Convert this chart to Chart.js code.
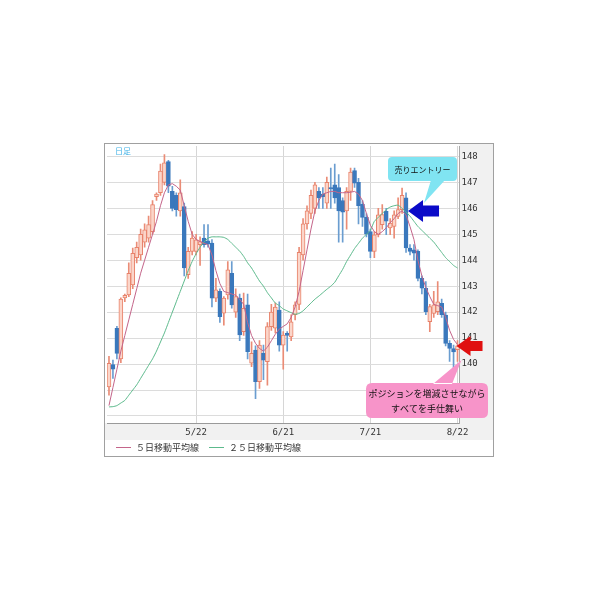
<!DOCTYPE html>
<html>
<head>
<meta charset="utf-8">
<script src="https://cdn.jsdelivr.net/npm/chart.js@4.4.0/dist/chart.umd.min.js"></script>
<style>
  html, body { margin: 0; padding: 0; background: #fff; }
</style>
</head>
<body>
<canvas id="chart" width="600" height="600"></canvas>
<script>
// trading days (weekdays) 4/20 .. 8/22
const labels = [];
for (let d = new Date(2023, 3, 20); d <= new Date(2023, 7, 22); d.setDate(d.getDate() + 1)) {
    if (d.getDay() !== 0 && d.getDay() !== 6) labels.push((d.getMonth() + 1) + '/' + d.getDate());
}
const tickDates = ['5/22', '6/21', '7/21', '8/22'];

const open = [139.12, 139.98, 141.38, 140.2, 142.55, 142.66, 143.05, 144.1, 144.2, 144.7,
    144.85, 145.1, 146.45, 146.6, 147.0, 147.8, 146.65, 146.5, 145.9, 146.07,
    143.44, 144.34, 144.34, 144.6, 144.85, 144.75, 144.66, 142.54, 142.8, 141.96,
    142.66, 143.5, 142.0, 142.54, 141.25, 142.28, 140.03, 140.54, 139.32, 140.41,
    140.09, 141.44, 141.38, 142.08, 140.73, 141.18, 141.05, 141.9, 142.3, 144.2,
    145.4, 145.8, 146.0, 146.65, 146.55, 146.2, 146.8, 146.9, 146.8, 146.3,
    145.9, 146.65, 147.45, 147.0, 146.15, 145.65, 145.1, 144.34, 144.98, 145.37,
    145.88, 145.24, 145.3, 145.69, 145.95, 146.4, 144.47, 144.4, 144.34, 143.3,
    142.92, 141.63, 141.95, 142.02, 142.34, 141.89, 140.8, 140.6, 140.55];
const high = [140.3, 140.15, 141.45, 142.55, 142.7, 143.9, 144.47, 144.7, 145.2, 145.4,
    145.7, 146.3, 146.6, 147.7, 148.07, 147.85, 146.85, 146.6, 147.1, 146.2,
    144.5, 145.1, 145.0, 144.9, 145.37, 145.37, 144.8, 143.3, 142.9, 142.6,
    143.95, 143.95, 142.9, 142.7, 142.73, 142.7, 140.86, 140.7, 140.9, 140.73,
    141.6, 142.3, 142.35, 142.4, 141.25, 141.25, 141.9, 142.4, 144.5, 145.6,
    146.1, 146.7, 147.0, 146.8, 146.8, 147.2, 147.55, 147.7, 147.3, 146.4,
    146.8, 147.55, 147.55, 147.15, 146.3, 145.8, 145.2, 145.1, 146.0, 146.14,
    146.0, 145.6, 145.9, 146.4, 146.78, 146.6, 144.6, 144.6, 144.4, 143.4,
    143.18, 142.3, 142.8, 143.18, 142.5, 142.0, 140.9, 140.73, 140.9];
const low = [138.8, 139.45, 140.2, 140.05, 142.4, 142.6, 142.9, 143.9, 144.0, 144.5,
    144.7, 145.0, 146.3, 146.5, 146.9, 146.6, 145.9, 145.7, 145.7, 143.4,
    143.3, 144.2, 144.2, 143.8, 144.5, 144.5, 142.2, 142.4, 141.6, 141.5,
    142.5, 142.15, 141.8, 140.9, 141.1, 140.2, 139.9, 138.67, 139.06, 139.4,
    139.19, 141.3, 141.2, 140.5, 139.8, 140.5, 140.9, 141.7, 142.1, 144.0,
    145.2, 145.6, 145.8, 146.0, 146.0, 146.0, 146.0, 146.2, 144.7, 144.7,
    145.2, 146.3, 146.8, 145.4, 145.3, 144.9, 144.1, 144.1, 144.9, 145.2,
    144.98, 144.98, 144.85, 145.6, 145.8, 144.3, 144.2, 144.0, 143.2, 142.7,
    141.9, 141.25, 141.8, 141.9, 141.8, 140.7, 140.1, 139.83, 140.1];
const close = [140.03, 139.8, 140.41, 142.5, 142.65, 143.5, 144.27, 144.5, 145.0, 145.17,
    145.37, 146.14, 146.55, 147.43, 147.75, 146.85, 146.0, 145.95, 146.6, 143.7,
    144.34, 144.85, 144.79, 144.72, 144.6, 144.62, 142.54, 142.86, 141.83, 142.54,
    143.63, 142.28, 142.6, 141.12, 142.15, 140.48, 140.41, 139.32, 140.73, 140.15,
    141.44, 142.0, 142.2, 140.73, 141.12, 141.1, 141.63, 142.28, 144.3, 145.4,
    145.9, 146.5, 146.9, 146.4, 146.45, 147.0, 146.75, 146.4, 145.9, 145.85,
    146.65, 147.4, 146.97, 146.1, 145.65, 145.0, 144.34, 144.98, 145.75, 145.76,
    145.5, 145.43, 145.75, 145.95, 146.5, 144.47, 144.34, 144.27, 143.3, 142.92,
    142.02, 142.21, 142.28, 142.4, 141.9, 140.8, 140.6, 140.47, 140.7];

const ma5 = [138.4, 139.1, 139.8, 140.5, 141.1, 141.7, 142.3, 142.9, 143.5, 144.0,
    144.5, 145.0, 145.5, 146.1, 146.6, 146.9, 146.95, 146.85, 146.7, 146.1,
    145.5, 145.0, 144.8, 144.72, 144.65, 144.6, 144.2, 143.6, 143.1, 142.8,
    142.75, 142.7, 142.65, 142.5, 142.3, 141.6, 141.1, 140.8, 140.6, 140.5,
    140.65, 140.9, 141.15, 141.35, 141.45, 141.55, 141.8, 142.2, 142.8, 143.6,
    144.4, 145.2, 145.9, 146.3, 146.55, 146.6, 146.65, 146.65, 146.6, 146.6,
    146.6, 146.62, 146.65, 146.55, 146.3, 145.8, 145.35, 145.1, 145.0, 145.1,
    145.25, 145.45, 145.6, 145.8, 145.9, 145.75, 145.3, 144.8, 144.0, 143.4,
    142.95, 142.6, 142.3, 142.25, 142.2, 141.8, 141.3, 140.95, 140.75];
const ma25 = [138.35, 138.36, 138.4, 138.5, 138.6, 138.8, 139.0, 139.2, 139.45, 139.7,
    139.95, 140.2, 140.5, 140.85, 141.2, 141.6, 142.0, 142.4, 142.8, 143.2,
    143.6, 143.95, 144.25, 144.5, 144.7, 144.85, 144.9, 144.9, 144.9, 144.88,
    144.8, 144.65, 144.5, 144.35, 144.15, 143.9, 143.7, 143.45, 143.2, 143.0,
    142.75, 142.55, 142.35, 142.25, 142.12, 142.05, 141.98, 141.92, 141.95, 142.05,
    142.2, 142.35, 142.5, 142.62, 142.75, 142.88, 143.0, 143.15, 143.4, 143.65,
    143.95, 144.2, 144.45, 144.65, 144.85, 145.0, 145.15, 145.5, 145.65, 145.8,
    145.95, 146.05, 146.1, 146.12, 146.0, 145.85, 145.7, 145.5, 145.3, 145.15,
    145.0, 144.85, 144.7, 144.5, 144.3, 144.1, 143.95, 143.8, 143.7];

const up = close.map((c, i) => c >= open[i]);
const jpFont = '"Noto Sans CJK JP", sans-serif';

function bubble(ctx, x, y, w, h, r, tail, color) {
    ctx.beginPath();
    ctx.moveTo(x + r, y);
    ctx.lineTo(x + w - r, y);
    ctx.quadraticCurveTo(x + w, y, x + w, y + r);
    ctx.lineTo(x + w, y + h - r);
    ctx.quadraticCurveTo(x + w, y + h, x + w - r, y + h);
    ctx.lineTo(x + r, y + h);
    ctx.quadraticCurveTo(x, y + h, x, y + h - r);
    ctx.lineTo(x, y + r);
    ctx.quadraticCurveTo(x, y, x + r, y);
    ctx.closePath();
    ctx.moveTo(tail[0][0], tail[0][1]);
    ctx.lineTo(tail[1][0], tail[1][1]);
    ctx.lineTo(tail[2][0], tail[2][1]);
    ctx.closePath();
    ctx.fillStyle = color;
    ctx.fill();
}

function arrowLeft(ctx, tx, ty, headLen, headHalf, totalLen, shaftHalf, color) {
    ctx.beginPath();
    ctx.moveTo(tx, ty);
    ctx.lineTo(tx + headLen, ty - headHalf);
    ctx.lineTo(tx + headLen, ty - shaftHalf);
    ctx.lineTo(tx + totalLen, ty - shaftHalf);
    ctx.lineTo(tx + totalLen, ty + shaftHalf);
    ctx.lineTo(tx + headLen, ty + shaftHalf);
    ctx.lineTo(tx + headLen, ty + headHalf);
    ctx.closePath();
    ctx.fillStyle = color;
    ctx.fill();
}

const framePlugin = {
    id: 'frame',
    beforeDraw(chart) {
        const { ctx, chartArea: a } = chart;
        ctx.save();
        ctx.fillStyle = '#fff';
        ctx.fillRect(0, 0, chart.width, chart.height);
        ctx.fillStyle = '#f1f1f1';
        ctx.fillRect(a.right, 143, 493 - a.right, 440 - 143);
        ctx.fillRect(104, a.bottom, 493 - 104, 440 - a.bottom);
        ctx.restore();
    },
    afterDraw(chart) {
        const { ctx, chartArea: a, scales } = chart;
        ctx.save();

        // outer frame
        ctx.strokeStyle = '#a0a0a0';
        ctx.lineWidth = 1;
        ctx.strokeRect(104.5, 143.5, 389, 313);

        // 日足
        ctx.font = '8px ' + jpFont;
        ctx.fillStyle = '#45b3e6';
        ctx.textBaseline = 'middle';
        ctx.textAlign = 'left';
        ctx.fillText('日足', a.left + 8, a.top + 5);

        // legend
        let lx = a.left + 9;
        const ly = 447;
        ctx.font = '9px ' + jpFont;
        chart.data.datasets.filter(ds => ds.type === 'line').forEach(ds => {
            ctx.strokeStyle = ds.borderColor;
            ctx.lineWidth = 1;
            ctx.beginPath();
            ctx.moveTo(lx, ly + 0.5);
            ctx.lineTo(lx + 15, ly + 0.5);
            ctx.stroke();
            ctx.fillStyle = '#333';
            ctx.fillText(ds.label, lx + 20, ly + 1);
            lx += 20 + ctx.measureText(ds.label).width + 10;
        });

        // sell entry marker
        const bx = scales.x.getPixelForValue(75) + 2;
        const by = scales.y.getPixelForValue(145.9);
        bubble(ctx, 388, 157, 69, 24, 4, [[431, 180], [445, 180], [bx + 16, by - 8]], '#80e4f2');
        ctx.fillStyle = '#111';
        ctx.font = '8px ' + jpFont;
        ctx.textAlign = 'center';
        ctx.fillText('売りエントリー', 422.5, 169.5);
        arrowLeft(ctx, bx, by, 15, 11, 31, 5.5, '#0a0ac8');

        // exit marker
        const rx = scales.x.getPixelForValue(88) - 1;
        const ry = scales.y.getPixelForValue(140.7);
        bubble(ctx, 366, 383, 122, 35, 6, [[433, 384], [452, 384], [rx + 5, ry + 14]], '#f794c9');
        ctx.fillStyle = '#111';
        ctx.font = '9px ' + jpFont;
        ctx.fillText('ポジションを増減させながら', 427, 393.5);
        ctx.fillText('すべてを手仕舞い', 427, 408.5);
        arrowLeft(ctx, rx, ry, 14, 10, 26, 5, '#e01010');

        ctx.restore();
    }
};

new Chart(document.getElementById('chart'), {
    type: 'bar',
    data: {
        labels: labels,
        datasets: [
            {
                type: 'line', label: '５日移動平均線', data: ma5,
                borderColor: '#c4658a', backgroundColor: '#c4658a',
                borderWidth: 1, pointRadius: 0, tension: 0, order: 0
            },
            {
                type: 'line', label: '２５日移動平均線', data: ma25,
                borderColor: '#5cba8c', backgroundColor: '#5cba8c',
                borderWidth: 1, pointRadius: 0, tension: 0.2, order: 0
            },
            {
                label: 'wick', data: low.map((l, i) => [l, high[i]]),
                backgroundColor: up.map(u => u ? '#ea8c76' : '#6a9dd0'),
                barThickness: 1, grouped: false, order: 2
            },
            {
                label: 'body', data: open.map((o, i) => [o, close[i]]),
                backgroundColor: up.map(u => u ? '#fbd6ca' : '#3a78bc'),
                borderColor: up.map(u => u ? '#e8826a' : '#3a78bc'),
                borderWidth: 1, borderSkipped: false,
                barThickness: 4, grouped: false, order: 1
            }
        ]
    },
    options: {
        responsive: false,
        animation: false,
        layout: { padding: { left: 107, top: 146, right: 106.5, bottom: 160 } },
        plugins: {
            legend: { display: false },
            tooltip: { enabled: false }
        },
        scales: {
            x: {
                offset: true,
                afterFit: scale => { scale.height = 17; },
                grid: {
                    offset: false,
                    drawTicks: false,
                    color: c => (c.tick && tickDates.includes(labels[c.tick.value])) ? '#d6d6d6' : 'rgba(0,0,0,0)'
                },
                border: { color: '#9a9a9a' },
                ticks: {
                    autoSkip: false,
                    maxRotation: 0,
                    padding: 4,
                    color: '#333',
                    font: { family: 'DejaVu Sans Mono', size: 9 },
                    callback: (v) => tickDates.includes(labels[v]) ? labels[v] : ''
                }
            },
            y: {
                position: 'right',
                min: 137.73,
                max: 148.4,
                afterFit: scale => { scale.width = 34; },
                afterBuildTicks: axis => { axis.ticks = axis.ticks.filter(t => Number.isInteger(t.value)); },
                grid: { drawTicks: false, color: '#dcdcdc' },
                border: { color: '#a8a8a8' },
                ticks: {
                    stepSize: 1,
                    includeBounds: false,
                    maxTicksLimit: 20,
                    padding: 2,
                    color: '#333',
                    font: { family: 'DejaVu Sans Mono', size: 9 }
                }
            }
        }
    },
    plugins: [framePlugin]
});
</script>
</body>
</html>
